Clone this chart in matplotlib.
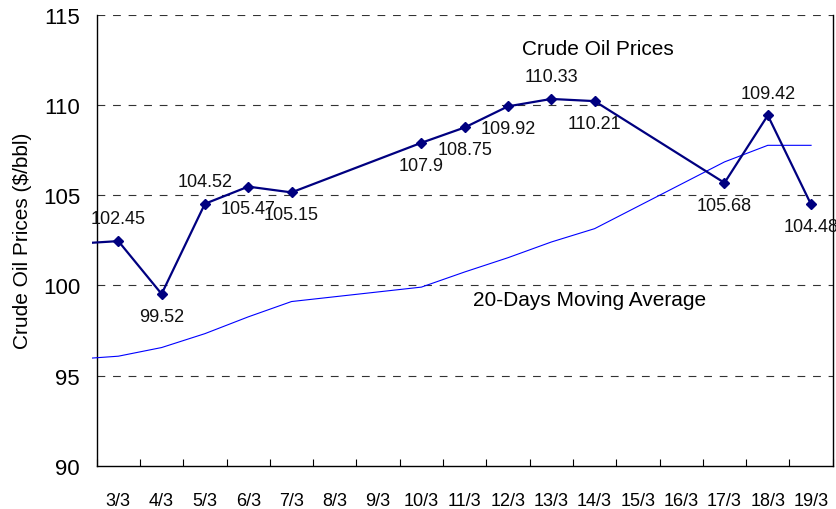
import numpy as np
import matplotlib.pyplot as plt
from matplotlib.patches import Rectangle

# Fechas (categorías del eje X)
fechas = ['3/3', '4/3', '5/3', '6/3', '7/3', '8/3', '9/3', '10/3', '11/3',
          '12/3', '13/3', '14/3', '15/3', '16/3', '17/3', '18/3', '19/3']

# Precios del crudo (días hábiles); el primero es el día anterior (2/3)
dias_precio = ['2/3', '3/3', '4/3', '5/3', '6/3', '7/3', '10/3', '11/3',
               '12/3', '13/3', '14/3', '17/3', '18/3', '19/3']
precios = [102.3, 102.45, 99.52, 104.52, 105.47, 105.15, 107.9, 108.75,
           109.92, 110.33, 110.21, 105.68, 109.42, 104.48]
etiqueta_arriba = [False, True, False, True, False, False, False, False,
                   False, True, False, False, True, False]

# Media móvil de 20 días
media_movil = [95.9, 96.07, 96.55, 97.32, 98.25, 99.1, 99.9, 100.74,
               101.53, 102.4, 103.14, 106.84, 107.76, 107.76]

def posicion(d):
    return fechas.index(d) if d in fechas else -1

x = np.array([posicion(d) for d in dias_precio])

fig = plt.figure(figsize=(8.37, 5.10), dpi=100)
ax = fig.add_axes([0.1155, 0.0849, 0.8794, 0.8843])

clip = Rectangle((-0.007, 0), 1.007, 1, transform=ax.transAxes,
                 facecolor='none', edgecolor='none')

l1, = ax.plot(x, media_movil, color='#0000FF', lw=0.8, zorder=3)
l2, = ax.plot(x, precios, color='#000080', lw=1.6, marker='D', ms=5.5, zorder=4)
l1.set_clip_path(clip)
l2.set_clip_path(clip)

# Etiquetas de datos
for xi, p, arriba in zip(x[1:], precios[1:], etiqueta_arriba[1:]):
    ax.annotate(f'{p:g}', (xi, p), xytext=(0, 16 if arriba else -16),
                textcoords='offset points', ha='center', va='center',
                fontsize=13, family='Liberation Sans', color='#111111')

ax.text(0.681, 0.924, 'Crude Oil Prices', transform=ax.transAxes,
        ha='center', va='center', fontsize=15, family='Liberation Sans')
ax.text(0.670, 0.368, '20-Days Moving Average', transform=ax.transAxes,
        ha='center', va='center', fontsize=15, family='Liberation Sans')

ax.set_xlim(-0.5, len(fechas) - 0.5)
ax.set_ylim(90, 115)
ax.set_yticks([90, 95, 100, 105, 110, 115])
ax.set_yticklabels(['90', '95', '100', '105', '110', '115'],
                   fontsize=16, family='Liberation Sans')
ax.tick_params(axis='y', length=0, pad=12)

ax.set_xticks(np.arange(len(fechas)))
ax.set_xticklabels(fechas, fontsize=13, family='Liberation Sans')
ax.set_xticks(np.arange(len(fechas) + 1) - 0.5, minor=True)
ax.tick_params(axis='x', which='major', length=0, pad=19)
ax.tick_params(axis='x', which='minor', direction='in', length=5, width=0.8)

for v in [95, 100, 105, 110, 115]:
    ax.axhline(v, color='#333333', lw=0.8, ls=(0, (7, 7)), zorder=1)

ax.spines['top'].set_visible(False)
for s in ['left', 'right', 'bottom']:
    ax.spines[s].set_linewidth(1.0)

ax.set_ylabel('Crude Oil Prices ($/bbl)', fontsize=15, family='Liberation Sans')
ax.yaxis.set_label_coords(-0.088, 0.5)

fig.savefig('out.png', dpi=100)
